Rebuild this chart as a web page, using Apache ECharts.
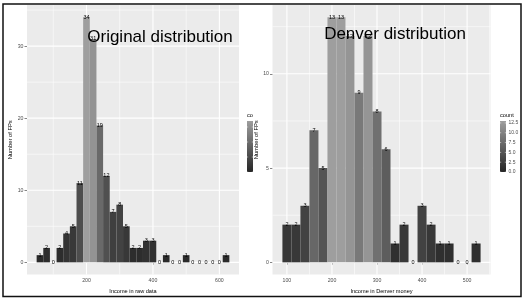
<!DOCTYPE html>
<html><head><meta charset="utf-8">
<script src="https://cdn.jsdelivr.net/npm/echarts@6/dist/echarts.min.js"></script>
<style>html,body{margin:0;padding:0;background:#fff}#c{width:523px;height:299px}</style>
</head><body><div id="c"></div>
<script>
// ---- data ----
const binWidth = 20;
const rawBins = [60,80,100,120,140,160,180,200,220,240,260,280,300,320,340,360,380,400,420,440,460,480,500,520,540,560,580,600,620];
const rawCounts = [1,2,0,2,4,5,11,34,31,19,12,7,8,5,2,2,3,3,0,1,0,0,1,0,0,0,0,0,1];
const denverBins = [100,120,140,160,180,200,220,240,260,280,300,320,340,360,380,400,420,440,460,480,500,520];
const denverCounts = [2,2,3,7,5,13,13,12,9,12,8,6,1,2,0,3,2,1,1,0,0,1];
const rawXTicks = [200,400,600];
const rawXMinor = [100,300,500];
const rawYTicks = [0,10,20,30];
const rawYMinor = [5,15,25,35];
const denverXTicks = [100,200,300,400,500];
const denverXMinor = [150,250,350,450,550];
const denverYTicks = [0,5,10];
const denverYMinor = [2.5,7.5,12.5];
const rawLegendTicks = [0,10,20,30];
const denverLegendTicks = [0,2.5,5,7.5,10,12.5];
const denverLegendLabels = ['0.0','2.5','5.0','7.5','10.0','12.5'];

const FONT = 'Liberation Sans';
const LOW = '#262626', HIGH = '#9e9e9e';

function pairs(xs, ys){ return xs.map((x,i)=>[x, ys[i]]); }
function gridItems(xMaj, xMin, yMaj, yMin){
  const out = [];
  xMaj.forEach(v=>out.push([v,0,0])); xMin.forEach(v=>out.push([v,0,1]));
  yMaj.forEach(v=>out.push([0,v,2])); yMin.forEach(v=>out.push([0,v,3]));
  return out;
}
function gridRender(params, api){
  const cs = params.coordSys;
  const kind = api.value(2);
  const w = (kind===0||kind===2) ? 1.1 : 0.55;
  if (kind < 2){
    const p = api.coord([api.value(0), 0]);
    return {type:'line', shape:{x1:p[0], y1:cs.y, x2:p[0], y2:cs.y+cs.height}, style:{stroke:'#fff', lineWidth:w}};
  } else {
    const p = api.coord([0, api.value(1)]);
    return {type:'line', shape:{x1:cs.x, y1:p[1], x2:cs.x+cs.width, y2:p[1]}, style:{stroke:'#fff', lineWidth:w}};
  }
}
function barRender(params, api){
  const x = api.value(0), c = api.value(1);
  const p0 = api.coord([x - binWidth/2, c]);
  const p1 = api.coord([x + binWidth/2, 0]);
  const t = api.coord([x, c]);
  const children = [];
  if (c > 0) children.push({type:'rect', shape:{x:p0[0], y:p0[1], width:p1[0]-p0[0], height:p1[1]-p0[1]}, style:{fill:api.visual('color')}});
  children.push({type:'text', x:t[0], y:t[1], z2:10, style:{text:String(c), fontSize:5.5, fontFamily:FONT, fill:'#000', align:'center', verticalAlign:'middle'}});
  return {type:'group', children};
}
function xAxisCfg(idx, min, max, ticks, name){
  return {gridIndex:idx, type:'value', min, max,
    axisLine:{show:false}, splitLine:{show:false},
    axisTick:{show:true, customValues:ticks, length:2.5, lineStyle:{color:'#333', width:0.6}},
    axisLabel:{customValues:ticks, fontSize:5.2, color:'#4d4d4d', margin:3.5, fontFamily:FONT},
    name, nameLocation:'middle', nameGap:12, nameTextStyle:{fontSize:5.6, color:'#000', fontFamily:FONT}};
}
function yAxisCfg(idx, min, max, ticks, name, gap){
  return {gridIndex:idx, type:'value', min, max,
    axisLine:{show:false}, splitLine:{show:false},
    axisTick:{show:true, customValues:ticks, length:2.5, lineStyle:{color:'#333', width:0.6}},
    axisLabel:{customValues:ticks, fontSize:5.2, color:'#4d4d4d', margin:3.5, fontFamily:FONT},
    name, nameLocation:'middle', nameGap:gap, nameRotate:90, nameTextStyle:{fontSize:5.8, color:'#000', fontFamily:FONT}};
}
function colorbar(x, y, w, h, max, ticks, labels, title){
  const els = [];
  els.push({type:'text', x:x, y:y-6, style:{text:title, fontSize:5.6, fontFamily:FONT, fill:'#000', align:'left', verticalAlign:'middle'}});
  els.push({type:'rect', shape:{x, y, width:w, height:h}, style:{fill:new echarts.graphic.LinearGradient(0,0,0,1,[{offset:0,color:HIGH},{offset:1,color:LOW}])}});
  ticks.forEach((v,i)=>{
    const ty = y + h - v/max*h;
    els.push({type:'line', shape:{x1:x, y1:ty, x2:x+1.2, y2:ty}, style:{stroke:'#fff', lineWidth:0.5}});
    els.push({type:'line', shape:{x1:x+w-1.2, y1:ty, x2:x+w, y2:ty}, style:{stroke:'#fff', lineWidth:0.5}});
    if (labels) els.push({type:'text', x:x+w+2.5, y:ty, style:{text:labels[i], fontSize:5, fontFamily:FONT, fill:'#4d4d4d', align:'left', verticalAlign:'middle'}});
  });
  return els;
}

const chart = echarts.init(document.getElementById('c'), null, {renderer:'canvas'});
const rawMax = Math.max(...rawCounts), denMax = Math.max(...denverCounts);
chart.setOption({
  animation:false,
  backgroundColor:'#fff',
  grid:[
    {left:27, top:5, width:212, height:273.5, show:true, backgroundColor:'#ebebeb', borderWidth:0},
    {left:272.5, top:5, width:218, height:273.5, show:true, backgroundColor:'#ebebeb', borderWidth:0}
  ],
  xAxis:[
    xAxisCfg(0, 21, 659, rawXTicks, 'Income in raw data'),
    xAxisCfg(1, 68, 552, denverXTicks, 'Income in Denver money')
  ],
  yAxis:[
    yAxisCfg(0, -1.7, 35.7, rawYTicks, 'Number of FPs', 10.5),
    yAxisCfg(1, -0.65, 13.65, denverYTicks, 'Number of FPs', 9.5)
  ],
  visualMap:[
    {show:false, type:'continuous', seriesIndex:1, dimension:1, min:0, max:rawMax, inRange:{color:[LOW,HIGH]}},
    {show:false, type:'continuous', seriesIndex:3, dimension:1, min:0, max:denMax, inRange:{color:[LOW,HIGH]}}
  ],
  series:[
    {type:'custom', xAxisIndex:0, yAxisIndex:0, z:1, silent:true, clip:false, renderItem:gridRender,
      data:gridItems(rawXTicks, rawXMinor, rawYTicks, rawYMinor)},
    {type:'custom', xAxisIndex:0, yAxisIndex:0, z:2, clip:false, renderItem:barRender, encode:{x:0,y:1},
      data:pairs(rawBins, rawCounts)},
    {type:'custom', xAxisIndex:1, yAxisIndex:1, z:1, silent:true, clip:false, renderItem:gridRender,
      data:gridItems(denverXTicks, denverXMinor, denverYTicks, denverYMinor)},
    {type:'custom', xAxisIndex:1, yAxisIndex:1, z:2, clip:false, renderItem:barRender, encode:{x:0,y:1},
      data:pairs(denverBins, denverCounts)}
  ],
  graphic:[
    {type:'text', x:160, y:37, z:100, style:{text:'Original distribution', fontSize:17, fontFamily:FONT, fill:'#000', align:'center', verticalAlign:'middle'}},
    {type:'text', x:395, y:34, z:100, style:{text:'Denver distribution', fontSize:17, fontFamily:FONT, fill:'#000', align:'center', verticalAlign:'middle'}},
    {type:'group', z:50, children: colorbar(247, 121, 6, 51, rawMax, rawLegendTicks, null, 'co')},
    {type:'group', z:50, children: colorbar(500, 121, 6, 51, denMax, denverLegendTicks, denverLegendLabels, 'count')},
    {type:'rect', z:200, shape:{x:3, y:4, width:518, height:292.5}, style:{fill:null, stroke:'#111', lineWidth:1.5}}
  ]
});
</script></body></html>
